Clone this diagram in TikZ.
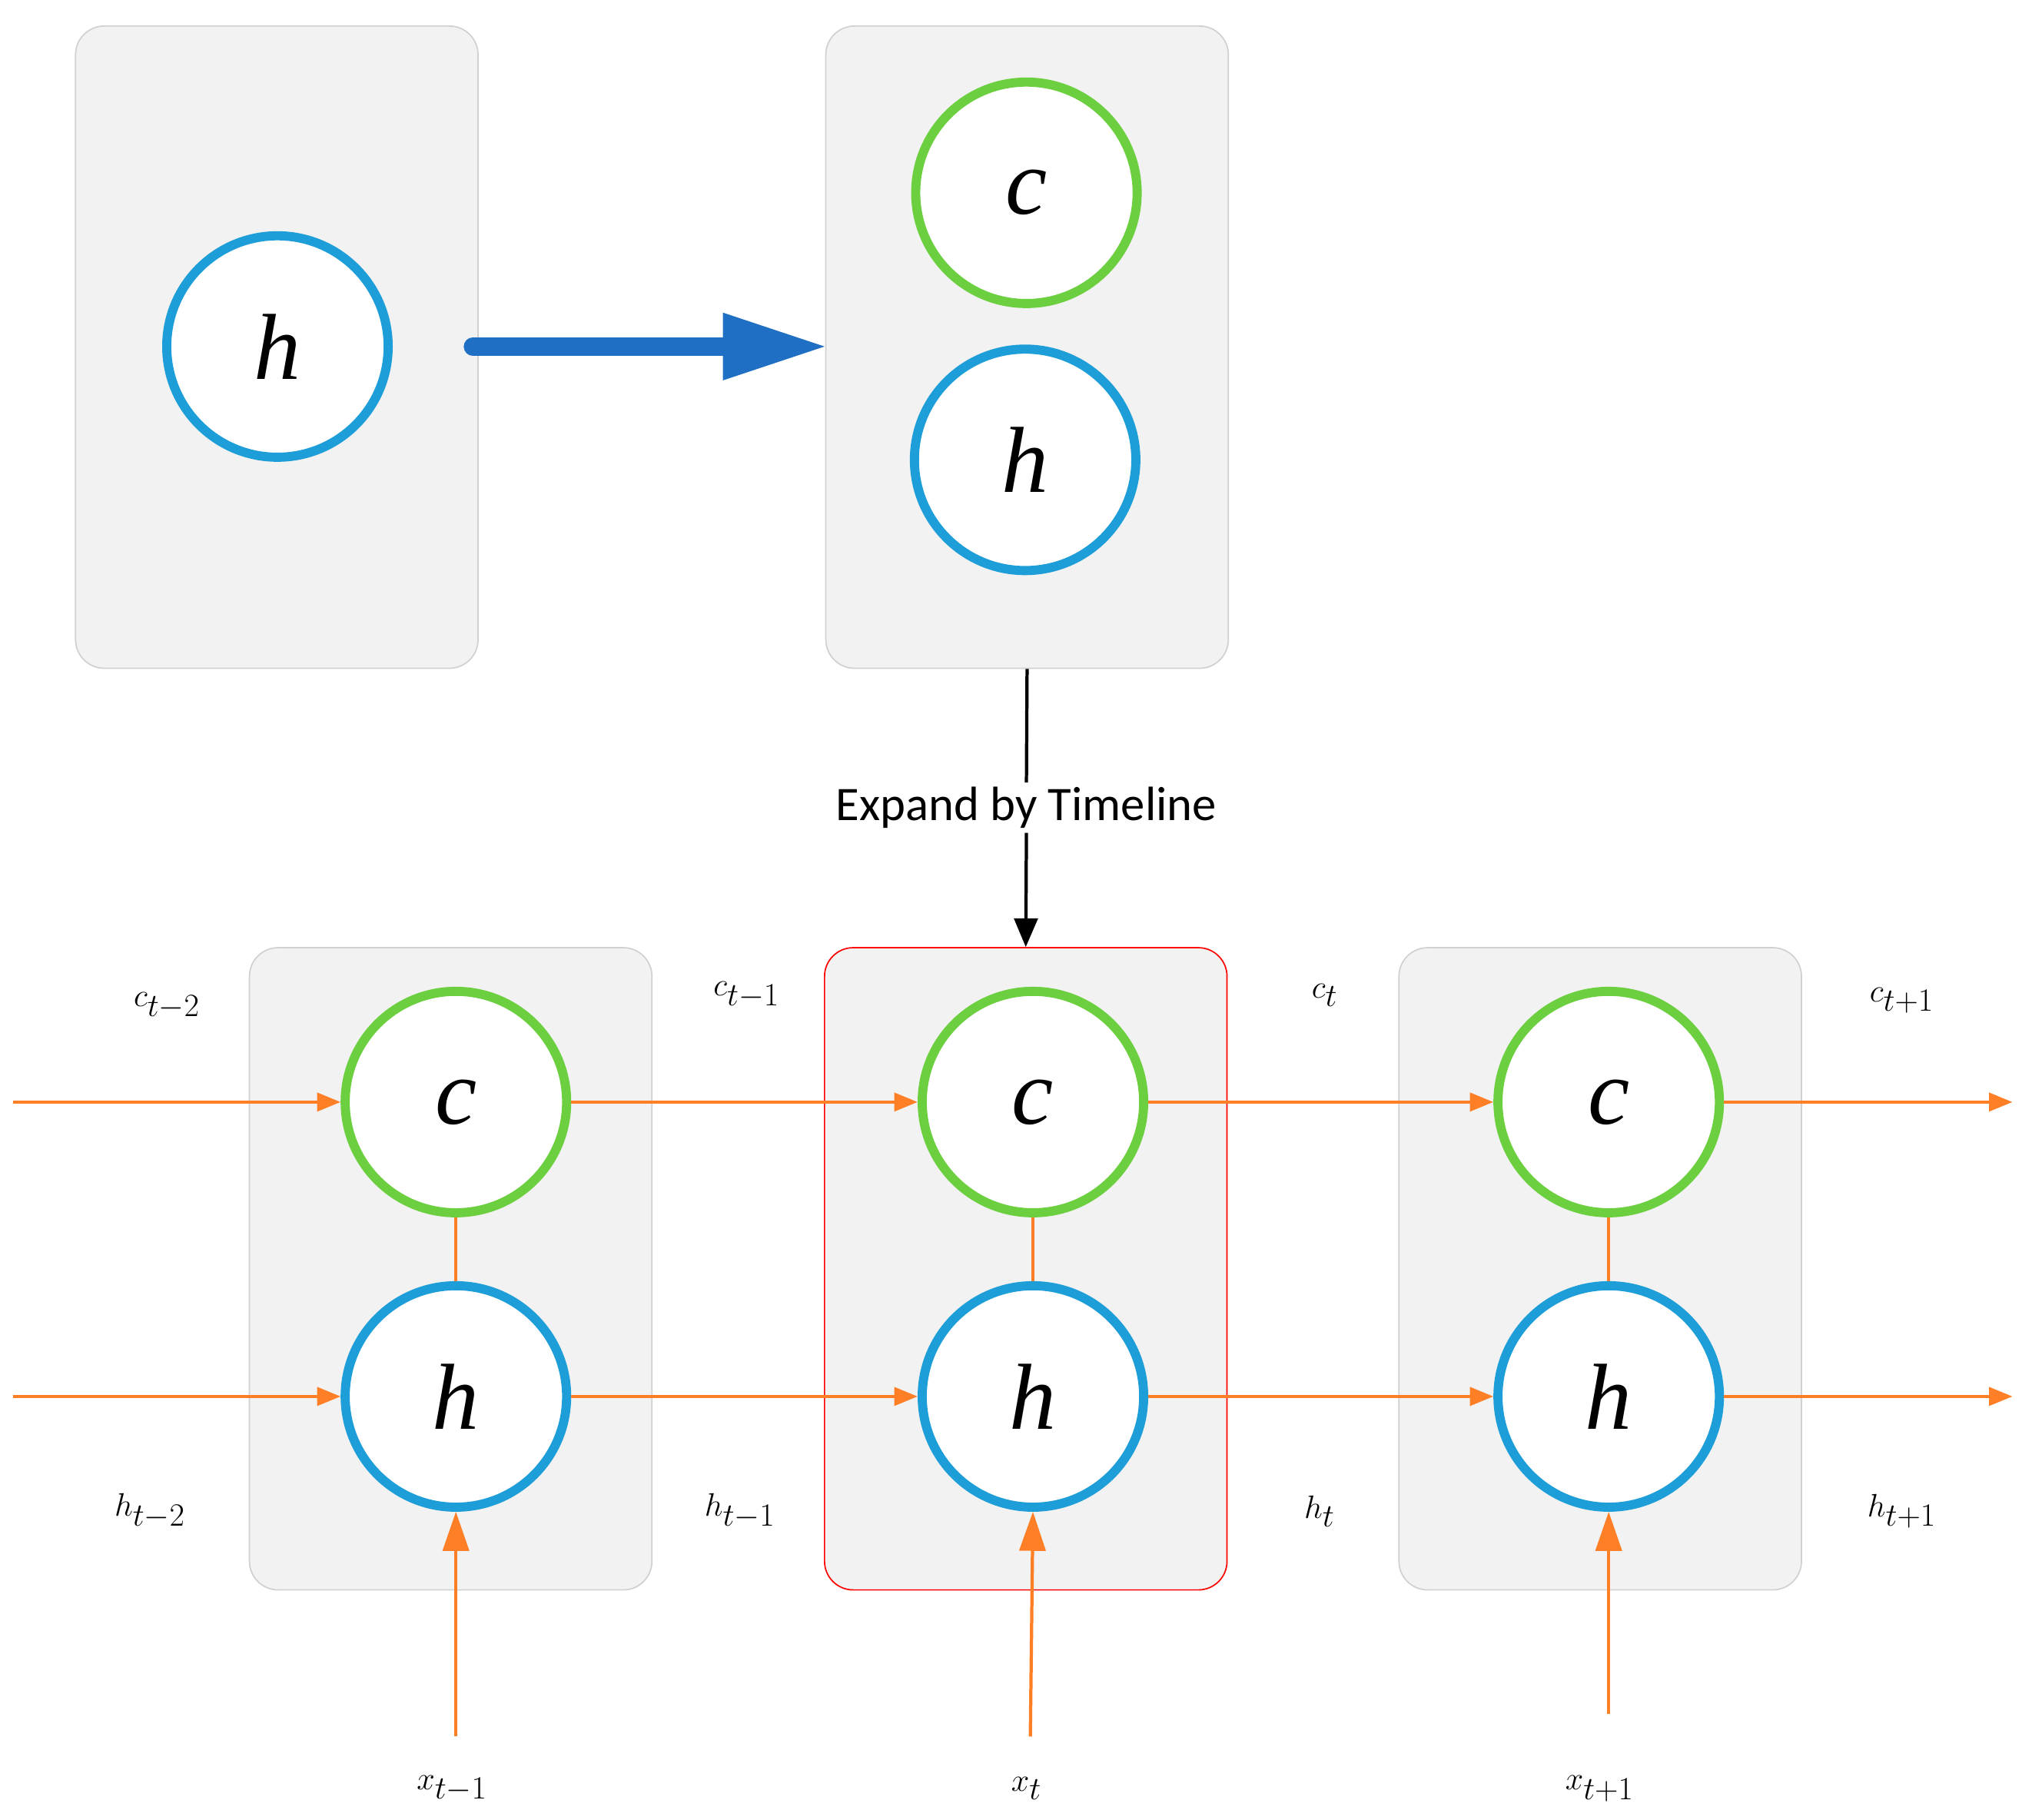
\documentclass[tikz,border=0pt]{standalone}
\usepackage{fontspec}
\setmainfont{Liberation Serif}
\newfontfamily\labsans{Carlito}
\usetikzlibrary{arrows.meta}
\definecolor{boxfill}{HTML}{F2F2F2}
\definecolor{boxline}{HTML}{D0D0D0}
\definecolor{hblue}{HTML}{1E9ED8}
\definecolor{cgreen}{HTML}{6CCF3F}
\definecolor{org}{HTML}{FF7F27}
\definecolor{bigblue}{HTML}{1F6FC5}
\begin{document}
\begin{tikzpicture}[x=1pt,y=-1pt,
  box/.style={draw=boxline,fill=boxfill,rounded corners=22pt,line width=1pt,minimum width=309pt,minimum height=493pt,inner sep=0pt},
  cell/.style={circle,draw,line width=7pt,fill=white,minimum size=170pt,inner sep=0pt,font=\fontsize{72}{80}\selectfont\itshape},
  hc/.style={cell,draw=hblue},
  cc/.style={cell,draw=cgreen},
  flow/.style={draw=org,line width=2.5pt,-{Triangle[length=18pt,width=14pt]}},
  lab/.style={font=\fontsize{40}{48}\selectfont}]
\useasboundingbox (0,0) rectangle (1560,1397);
% top
\node[box] (b1) at (212.5,266.5) {};
\node[hc] (h0) at (213,266) {h};
\node[box] (b2) at (788.5,266.5) {};
\node[cc] (c0) at (788,148) {c};
\node[hc] (h00) at (787,353) {h};
\coordinate (bs) at (363,266);
\draw[bigblue,line width=14pt,line cap=round] (bs) -- (560,266);
\fill[bigblue] (555,240) -- (633,266) -- (555,292) -- cycle;
% expand
\node[font=\labsans\fontsize{37}{44}\selectfont] (exp) at (788,620) {Expand by Timeline};
\draw[line width=2.5pt] (b2.south) -- (exp.north);
% bottom boxes
\node[box] (bA) at (346,974) {};
\node[box,draw=red] (bB) at (787.5,974) {};
\node[box] (bC) at (1228.5,974) {};
\draw[line width=2.5pt,-{Triangle[length=22pt,width=18pt]}] (exp.south) -- (bB.north);
\foreach \n/\x in {1/350,2/793,3/1235}{
  \node[cc] (c\n) at (\x,846) {c};
  \node[hc] (h\n) at (\x,1072) {h};
  \draw[org,line width=2.5pt] (c\n.south) -- (h\n.north);
}
\coordinate (cin) at (10,846); \coordinate (hin) at (10,1072);
\coordinate (cout) at (1545,846); \coordinate (hout) at (1545,1072);
\draw[flow] (cin) -- (c1); \draw[flow] (c1) -- (c2); \draw[flow] (c2) -- (c3); \draw[flow] (c3) -- (cout);
\draw[flow] (hin) -- (h1); \draw[flow] (h1) -- (h2); \draw[flow] (h2) -- (h3); \draw[flow] (h3) -- (hout);
\coordinate (x1s) at (350,1333); \coordinate (x2s) at (791,1333); \coordinate (x3s) at (1235,1316);
\draw[flow,-{Triangle[length=30pt,width=20pt]}] (x1s) -- (h1.south);
\draw[flow,-{Triangle[length=30pt,width=20pt]}] (x2s) -- (h2.south);
\draw[flow,-{Triangle[length=30pt,width=20pt]}] (x3s) -- (h3.south);
% labels
\node[lab] (lc0) at (128,772) {$c_{t-2}$};
\node[lab] (lc1) at (573,764) {$c_{t-1}$};
\node[lab] (lc2) at (1017,764) {$c_{t}$};
\node[lab] (lc3) at (1460,768) {$c_{t+1}$};
\node[lab] (lh0) at (115,1160) {$h_{t-2}$};
\node[lab] (lh1) at (568,1160) {$h_{t-1}$};
\node[lab] (lh2) at (1013,1160) {$h_{t}$};
\node[lab] (lh3) at (1460,1160) {$h_{t+1}$};
\node[lab] (lx1) at (347,1373) {$x_{t-1}$};
\node[lab] (lx2) at (788,1373) {$x_{t}$};
\node[lab] (lx3) at (1228,1373) {$x_{t+1}$};
\end{tikzpicture}
\end{document}
